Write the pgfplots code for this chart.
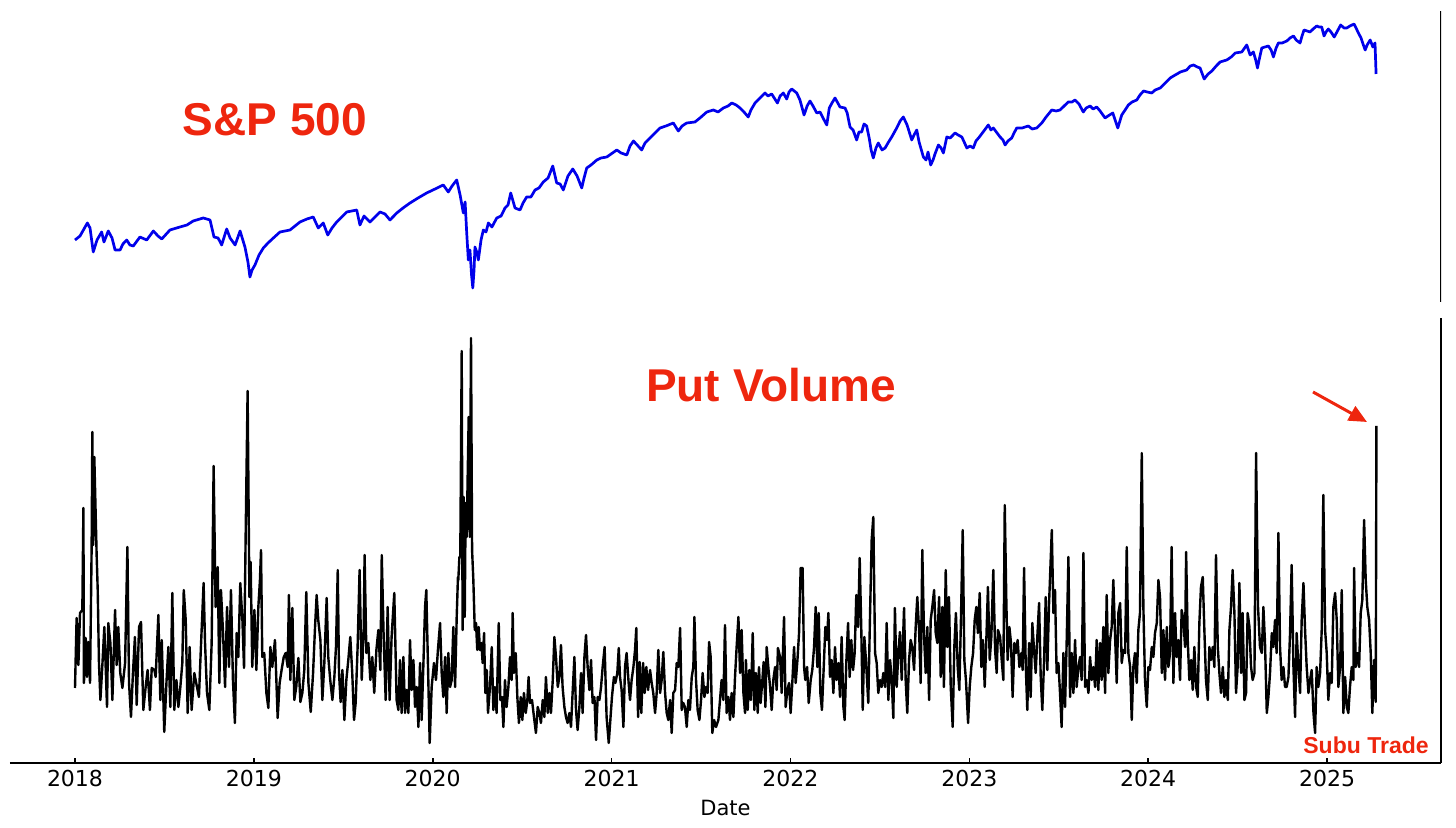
\documentclass[border=0pt]{standalone}
\usepackage{fontspec}
\setmainfont{DejaVu Sans}
\newfontfamily\helv{Liberation Sans}
\usepackage{pgfplots}
\pgfplotsset{compat=1.18}
\usetikzlibrary{arrows.meta}
\definecolor{annored}{RGB}{238,38,14}
\definecolor{spblue}{RGB}{0,0,235}
\pgfplotstableread{
year S
2018.000 62
2018.028 66
2018.069 79
2018.084 74
2018.102 50
2018.123 62
2018.149 70
2018.162 60
2018.186 71
2018.207 64
2018.224 52
2018.252 52
2018.268 58
2018.289 62
2018.307 57
2018.326 56
2018.363 65
2018.401 62
2018.438 71
2018.464 66
2018.485 63
2018.531 72
2018.587 75
2018.626 77
2018.661 81
2018.717 84
2018.755 82
2018.777 65
2018.800 64
2018.820 57
2018.848 73
2018.867 64
2018.895 57
2018.923 71
2018.950 55
2018.967 40
2018.978 25
2018.990 32
2019.006 37
2019.029 47
2019.053 54
2019.079 59
2019.109 64
2019.146 70
2019.202 72
2019.258 80
2019.297 83
2019.332 85
2019.360 74
2019.388 79
2019.413 67
2019.437 74
2019.463 80
2019.519 90
2019.575 92
2019.593 77
2019.616 86
2019.649 80
2019.705 90
2019.733 88
2019.761 82
2019.799 89
2019.834 94
2019.873 99
2019.918 104
2019.966 109
2020.013 113
2020.059 117
2020.087 110
2020.108 116
2020.134 122
2020.153 107
2020.171 89
2020.181 100
2020.190 69
2020.199 42
2020.208 52
2020.217 27
2020.224 14
2020.231 32
2020.236 55
2020.246 50
2020.255 42
2020.270 62
2020.283 72
2020.298 70
2020.311 79
2020.331 75
2020.358 84
2020.382 86
2020.404 94
2020.421 97
2020.436 109
2020.460 94
2020.488 92
2020.505 99
2020.525 105
2020.549 105
2020.572 112
2020.594 114
2020.618 120
2020.645 124
2020.671 136
2020.693 119
2020.712 118
2020.730 112
2020.756 126
2020.783 133
2020.807 126
2020.833 114
2020.846 124
2020.861 134
2020.885 137
2020.917 142
2020.941 144
2020.973 145
2020.997 148
2021.029 152
2021.053 149
2021.085 147
2021.103 156
2021.122 161
2021.143 157
2021.168 152
2021.187 159
2021.215 164
2021.243 169
2021.271 174
2021.304 176
2021.345 179
2021.373 171
2021.394 176
2021.420 179
2021.466 180
2021.494 184
2021.532 190
2021.569 192
2021.595 190
2021.625 194
2021.651 196
2021.672 199
2021.696 197
2021.718 194
2021.740 190
2021.764 185
2021.779 192
2021.802 199
2021.830 204
2021.858 209
2021.874 206
2021.895 208
2021.927 199
2021.942 206
2021.960 209
2021.979 203
2021.992 210
2022.007 213
2022.035 209
2022.053 202
2022.076 187
2022.093 196
2022.109 201
2022.126 196
2022.147 189
2022.165 190
2022.182 184
2022.203 177
2022.217 194
2022.232 199
2022.249 204
2022.277 195
2022.305 194
2022.317 189
2022.333 175
2022.350 172
2022.370 162
2022.383 170
2022.398 170
2022.411 178
2022.426 176
2022.440 164
2022.451 152
2022.463 144
2022.478 154
2022.491 159
2022.512 152
2022.529 154
2022.545 159
2022.566 165
2022.594 174
2022.613 181
2022.631 185
2022.652 177
2022.678 162
2022.691 167
2022.706 172
2022.719 160
2022.743 145
2022.758 142
2022.769 150
2022.784 137
2022.797 142
2022.808 148
2022.827 157
2022.842 154
2022.855 149
2022.874 165
2022.893 164
2022.920 169
2022.937 167
2022.958 165
2022.971 160
2022.986 154
2023.004 156
2023.022 154
2023.037 161
2023.056 165
2023.077 170
2023.106 177
2023.121 172
2023.134 174
2023.155 169
2023.172 165
2023.188 162
2023.200 157
2023.216 161
2023.237 164
2023.250 169
2023.265 174
2023.295 174
2023.330 176
2023.351 173
2023.377 174
2023.405 179
2023.429 185
2023.461 192
2023.485 191
2023.507 192
2023.530 196
2023.553 200
2023.574 200
2023.591 202
2023.613 198
2023.637 190
2023.653 194
2023.675 196
2023.692 193
2023.712 195
2023.731 191
2023.759 184
2023.775 186
2023.802 189
2023.815 182
2023.830 174
2023.852 187
2023.871 192
2023.889 197
2023.910 200
2023.936 202
2023.954 207
2023.974 211
2023.994 210
2024.020 209
2024.039 212
2024.067 214
2024.095 219
2024.123 224
2024.151 227
2024.180 230
2024.215 232
2024.235 236
2024.254 237
2024.274 235
2024.290 234
2024.313 223
2024.335 228
2024.356 231
2024.380 236
2024.402 240
2024.439 242
2024.464 245
2024.487 249
2024.523 250
2024.551 257
2024.570 247
2024.588 250
2024.601 242
2024.611 234
2024.620 242
2024.635 254
2024.653 255
2024.672 256
2024.687 252
2024.700 245
2024.715 254
2024.728 259
2024.749 259
2024.775 261
2024.793 264
2024.812 266
2024.827 262
2024.849 259
2024.860 266
2024.871 272
2024.888 271
2024.905 270
2024.922 273
2024.942 276
2024.955 275
2024.970 275
2024.983 266
2024.994 270
2025.007 273
2025.022 270
2025.040 265
2025.061 272
2025.076 277
2025.095 274
2025.110 274
2025.128 276
2025.151 278
2025.162 274
2025.175 269
2025.190 264
2025.201 258
2025.213 252
2025.224 257
2025.241 262
2025.256 255
2025.268 259
2025.274 228
}\spx
\pgfplotstableread{
year V
2018.000 75
2018.009 145
2018.019 98
2018.028 150
2018.041 153
2018.047 255
2018.050 80
2018.060 125
2018.067 86
2018.075 121
2018.084 80
2018.093 216
2018.097 331
2018.102 218
2018.108 306
2018.121 208
2018.127 173
2018.134 100
2018.142 63
2018.153 98
2018.164 136
2018.179 56
2018.186 140
2018.198 120
2018.209 63
2018.224 153
2018.233 98
2018.242 136
2018.253 90
2018.265 75
2018.280 100
2018.293 216
2018.302 80
2018.313 46
2018.324 90
2018.335 126
2018.345 58
2018.358 136
2018.369 141
2018.382 53
2018.395 76
2018.406 93
2018.419 53
2018.429 95
2018.444 93
2018.451 86
2018.466 148
2018.477 63
2018.485 123
2018.499 31
2018.512 83
2018.522 116
2018.533 56
2018.544 170
2018.555 53
2018.567 83
2018.578 56
2018.589 76
2018.600 100
2018.608 173
2018.619 143
2018.630 50
2018.641 116
2018.652 53
2018.667 90
2018.682 76
2018.693 66
2018.704 116
2018.719 180
2018.727 120
2018.738 70
2018.751 53
2018.764 120
2018.775 297
2018.786 156
2018.798 196
2018.807 80
2018.816 173
2018.827 133
2018.839 76
2018.850 156
2018.861 96
2018.872 173
2018.883 83
2018.894 40
2018.904 130
2018.913 106
2018.924 180
2018.936 143
2018.945 95
2018.954 226
2018.965 372
2018.975 166
2018.982 201
2018.991 96
2019.003 153
2019.014 93
2019.025 156
2019.034 183
2019.040 213
2019.047 106
2019.058 110
2019.070 70
2019.081 55
2019.092 116
2019.103 96
2019.118 123
2019.133 45
2019.144 80
2019.155 93
2019.167 106
2019.178 110
2019.189 96
2019.196 168
2019.204 83
2019.215 155
2019.226 63
2019.237 76
2019.249 105
2019.260 61
2019.271 70
2019.282 93
2019.293 171
2019.305 80
2019.318 51
2019.331 90
2019.342 136
2019.351 168
2019.360 143
2019.372 123
2019.383 63
2019.394 100
2019.407 165
2019.416 106
2019.427 83
2019.439 63
2019.450 86
2019.459 116
2019.469 193
2019.476 90
2019.485 61
2019.495 93
2019.506 43
2019.517 83
2019.528 103
2019.539 126
2019.550 90
2019.560 43
2019.569 60
2019.580 116
2019.591 193
2019.603 83
2019.614 133
2019.619 208
2019.629 110
2019.640 120
2019.651 83
2019.662 106
2019.673 70
2019.685 113
2019.696 133
2019.707 93
2019.715 208
2019.726 123
2019.737 63
2019.748 156
2019.759 63
2019.770 126
2019.785 170
2019.798 63
2019.808 53
2019.817 103
2019.826 50
2019.836 106
2019.845 50
2019.854 73
2019.864 50
2019.873 123
2019.882 73
2019.892 103
2019.901 56
2019.910 76
2019.920 36
2019.929 100
2019.938 43
2019.948 100
2019.957 156
2019.964 173
2019.974 93
2019.983 20
2019.994 76
2020.007 100
2020.018 83
2020.029 113
2020.041 140
2020.050 90
2020.059 66
2020.069 106
2020.078 50
2020.087 110
2020.097 76
2020.106 83
2020.115 136
2020.125 76
2020.134 146
2020.141 186
2020.143 183
2020.149 206
2020.154 206
2020.162 412
2020.167 133
2020.173 266
2020.179 146
2020.184 260
2020.190 226
2020.195 283
2020.201 346
2020.207 226
2020.214 425
2020.220 213
2020.227 183
2020.235 133
2020.242 140
2020.249 113
2020.257 136
2020.264 113
2020.272 120
2020.279 100
2020.287 130
2020.294 70
2020.302 93
2020.309 50
2020.320 76
2020.330 116
2020.339 53
2020.348 76
2020.357 50
2020.369 140
2020.378 63
2020.387 66
2020.395 36
2020.404 83
2020.413 56
2020.423 76
2020.432 106
2020.441 83
2020.447 150
2020.454 90
2020.464 110
2020.473 66
2020.482 40
2020.492 66
2020.501 43
2020.510 70
2020.520 50
2020.529 63
2020.536 86
2020.544 60
2020.555 63
2020.566 46
2020.577 30
2020.587 56
2020.596 50
2020.605 40
2020.615 63
2020.624 46
2020.633 86
2020.643 50
2020.652 70
2020.661 50
2020.671 83
2020.680 126
2020.689 106
2020.699 76
2020.708 86
2020.717 118
2020.726 76
2020.736 56
2020.745 46
2020.754 40
2020.764 50
2020.773 36
2020.782 70
2020.792 106
2020.801 53
2020.810 33
2020.820 56
2020.829 90
2020.838 50
2020.848 106
2020.857 128
2020.866 96
2020.876 73
2020.885 103
2020.894 60
2020.904 66
2020.913 23
2020.922 66
2020.932 63
2020.941 76
2020.950 96
2020.961 116
2020.972 46
2020.984 20
2020.993 43
2021.002 66
2021.013 86
2021.021 80
2021.032 90
2021.040 115
2021.047 86
2021.056 73
2021.066 36
2021.075 96
2021.084 110
2021.094 83
2021.103 63
2021.112 83
2021.122 96
2021.131 113
2021.138 135
2021.148 46
2021.157 101
2021.166 50
2021.176 100
2021.185 70
2021.194 96
2021.204 73
2021.215 93
2021.224 80
2021.233 70
2021.243 50
2021.252 70
2021.261 113
2021.271 70
2021.280 83
2021.289 111
2021.299 70
2021.308 50
2021.317 43
2021.327 63
2021.336 30
2021.345 70
2021.355 73
2021.364 100
2021.373 96
2021.383 135
2021.392 53
2021.401 60
2021.410 56
2021.420 36
2021.429 63
2021.438 53
2021.448 86
2021.457 96
2021.463 146
2021.472 83
2021.481 53
2021.491 43
2021.500 63
2021.509 90
2021.519 66
2021.528 76
2021.537 70
2021.545 121
2021.554 106
2021.563 30
2021.573 43
2021.584 36
2021.597 43
2021.615 83
2021.625 63
2021.634 138
2021.643 50
2021.653 66
2021.662 43
2021.671 70
2021.681 46
2021.690 86
2021.699 116
2021.709 146
2021.718 90
2021.727 133
2021.737 70
2021.746 50
2021.751 103
2021.761 53
2021.770 93
2021.779 63
2021.789 130
2021.798 53
2021.807 90
2021.817 50
2021.824 96
2021.833 60
2021.843 83
2021.850 101
2021.860 56
2021.867 116
2021.876 96
2021.886 76
2021.895 53
2021.904 83
2021.914 96
2021.923 73
2021.930 115
2021.942 106
2021.951 70
2021.964 146
2021.973 56
2021.983 73
2021.992 80
2022.001 50
2022.011 83
2022.020 116
2022.029 80
2022.039 103
2022.048 130
2022.057 195
2022.068 195
2022.076 96
2022.083 83
2022.093 96
2022.102 60
2022.113 83
2022.122 93
2022.132 116
2022.141 156
2022.150 96
2022.158 150
2022.167 70
2022.176 53
2022.186 96
2022.195 136
2022.204 123
2022.212 150
2022.221 86
2022.230 103
2022.240 70
2022.249 116
2022.258 83
2022.268 100
2022.277 66
2022.286 126
2022.296 56
2022.303 43
2022.312 100
2022.322 140
2022.331 86
2022.340 123
2022.350 93
2022.359 110
2022.368 168
2022.378 136
2022.387 205
2022.396 133
2022.404 53
2022.413 126
2022.422 103
2022.435 60
2022.445 150
2022.454 223
2022.463 246
2022.473 110
2022.482 100
2022.491 70
2022.501 83
2022.510 76
2022.519 90
2022.529 76
2022.538 140
2022.547 63
2022.557 103
2022.566 83
2022.575 45
2022.584 155
2022.594 76
2022.603 110
2022.612 131
2022.622 83
2022.635 155
2022.644 83
2022.653 50
2022.663 103
2022.672 123
2022.681 116
2022.691 93
2022.700 136
2022.709 166
2022.719 133
2022.728 80
2022.737 213
2022.747 126
2022.756 90
2022.765 136
2022.775 63
2022.784 143
2022.793 156
2022.803 173
2022.812 130
2022.821 120
2022.831 166
2022.840 86
2022.849 156
2022.858 76
2022.868 193
2022.877 116
2022.886 166
2022.896 76
2022.907 36
2022.916 116
2022.925 150
2022.935 96
2022.944 73
2022.953 143
2022.963 233
2022.972 103
2022.981 83
2022.993 40
2023.002 76
2023.011 96
2023.021 110
2023.030 143
2023.039 156
2023.048 130
2023.058 170
2023.067 96
2023.076 123
2023.086 76
2023.095 123
2023.104 176
2023.114 103
2023.123 126
2023.134 193
2023.144 113
2023.153 90
2023.160 133
2023.172 126
2023.181 103
2023.190 83
2023.198 258
2023.207 160
2023.214 103
2023.224 136
2023.233 120
2023.242 66
2023.252 120
2023.261 110
2023.270 123
2023.280 96
2023.291 110
2023.298 93
2023.306 195
2023.315 100
2023.324 53
2023.334 120
2023.343 66
2023.352 140
2023.362 113
2023.371 90
2023.380 126
2023.390 160
2023.399 86
2023.408 53
2023.418 103
2023.427 166
2023.436 93
2023.445 156
2023.461 233
2023.470 150
2023.479 173
2023.488 90
2023.498 100
2023.507 70
2023.516 36
2023.526 110
2023.535 56
2023.544 120
2023.554 206
2023.563 66
2023.572 110
2023.582 70
2023.591 123
2023.600 76
2023.610 96
2023.619 106
2023.628 83
2023.638 210
2023.647 76
2023.656 83
2023.666 70
2023.675 106
2023.684 83
2023.693 96
2023.703 76
2023.712 123
2023.721 73
2023.731 120
2023.740 83
2023.749 136
2023.759 70
2023.768 168
2023.777 90
2023.787 123
2023.796 136
2023.805 183
2023.815 126
2023.824 80
2023.833 150
2023.843 160
2023.852 100
2023.861 113
2023.871 110
2023.880 216
2023.889 110
2023.899 96
2023.908 43
2023.917 96
2023.926 110
2023.936 80
2023.945 133
2023.954 150
2023.964 310
2023.973 156
2023.982 83
2023.992 56
2024.001 96
2024.010 93
2024.020 116
2024.029 106
2024.038 130
2024.048 140
2024.057 183
2024.066 166
2024.076 90
2024.085 133
2024.094 83
2024.104 136
2024.113 96
2024.122 110
2024.131 216
2024.141 80
2024.150 150
2024.159 106
2024.169 123
2024.178 83
2024.187 153
2024.197 143
2024.206 116
2024.212 211
2024.221 123
2024.230 83
2024.240 103
2024.249 73
2024.258 116
2024.268 76
2024.277 66
2024.286 140
2024.295 176
2024.305 186
2024.314 133
2024.323 83
2024.333 63
2024.342 116
2024.351 103
2024.361 116
2024.370 96
2024.379 208
2024.389 116
2024.398 90
2024.407 70
2024.417 96
2024.426 66
2024.435 83
2024.445 63
2024.454 133
2024.463 156
2024.472 193
2024.482 150
2024.491 70
2024.500 96
2024.510 180
2024.519 90
2024.528 150
2024.538 63
2024.547 70
2024.556 150
2024.566 136
2024.575 96
2024.584 83
2024.594 90
2024.603 310
2024.614 156
2024.625 116
2024.635 110
2024.644 156
2024.653 120
2024.663 50
2024.672 66
2024.681 90
2024.691 130
2024.700 116
2024.709 143
2024.718 110
2024.728 230
2024.737 116
2024.746 83
2024.756 96
2024.765 76
2024.774 76
2024.784 86
2024.793 130
2024.802 198
2024.812 96
2024.821 46
2024.830 130
2024.840 96
2024.849 70
2024.858 143
2024.868 180
2024.877 133
2024.886 96
2024.896 70
2024.905 83
2024.914 93
2024.924 50
2024.933 30
2024.942 96
2024.951 76
2024.961 90
2024.970 133
2024.979 268
2024.989 133
2024.998 110
2025.007 63
2025.017 90
2025.026 80
2025.035 156
2025.045 170
2025.054 143
2025.063 76
2025.073 96
2025.082 173
2025.091 50
2025.101 86
2025.110 56
2025.119 50
2025.128 76
2025.138 96
2025.147 83
2025.151 195
2025.160 96
2025.170 110
2025.179 96
2025.188 150
2025.197 163
2025.207 243
2025.216 183
2025.225 156
2025.235 143
2025.244 110
2025.253 50
2025.263 103
2025.272 61
2025.276 337
}\putvol
\begin{document}
\begin{tikzpicture}
\useasboundingbox (0,0) rectangle (728pt,414pt);
% top panel: S&P 500
\begin{axis}[at={(5pt,263pt)},anchor=south west,scale only axis,
  width=715.5pt,height=145.5pt,
  xmin=2017.6366,xmax=2025.637,ymin=0,ymax=291,hide axis]
\addplot[spblue,line width=1.35pt,line join=round,mark=none] table[x=year,y=S] {\spx};
\draw[black,line width=0.8pt] (rel axis cs:1,0) -- (rel axis cs:1,1);
\end{axis}
% bottom panel: put volume
\begin{axis}[at={(5pt,32.5pt)},anchor=south west,scale only axis,
  width=715.5pt,height=222.5pt,
  xmin=2017.6366,xmax=2025.637,ymin=0,ymax=445,
  axis x line*=bottom, axis y line*=right, ytick=\empty,
  xtick={2018,2019,2020,2021,2022,2023,2024,2025},
  tick align=inside, major tick length=2.5pt,
  every tick/.style={black,line width=0.8pt},
  axis line style={black,line width=0.8pt,-},
  /pgf/number format/1000 sep={},
  /pgf/number format/assume math mode=true,
  x tick label style={font=\fontsize{11}{13}\selectfont},
  xlabel={Date}, xlabel style={font=\fontsize{10.5}{12}\selectfont},
]
\addplot[black,line width=1.2pt,line join=round,mark=none] table[x=year,y=V] {\putvol};
\end{axis}
\node[font=\helv\bfseries\fontsize{23}{27}\selectfont,text=annored] at (137.5pt,354pt) {S\&P 500};
\node[font=\helv\bfseries\fontsize{23}{27}\selectfont,text=annored] at (385.5pt,221.5pt) {Put Volume};
\node[font=\helv\bfseries\fontsize{11.5}{13}\selectfont,text=annored] at (683pt,41.5pt) {Subu Trade};
\draw[annored,line width=1.5pt,-{Triangle[length=9pt,width=8pt]}] (656.5pt,218pt) -- (683.5pt,203pt);
\end{tikzpicture}
\end{document}
